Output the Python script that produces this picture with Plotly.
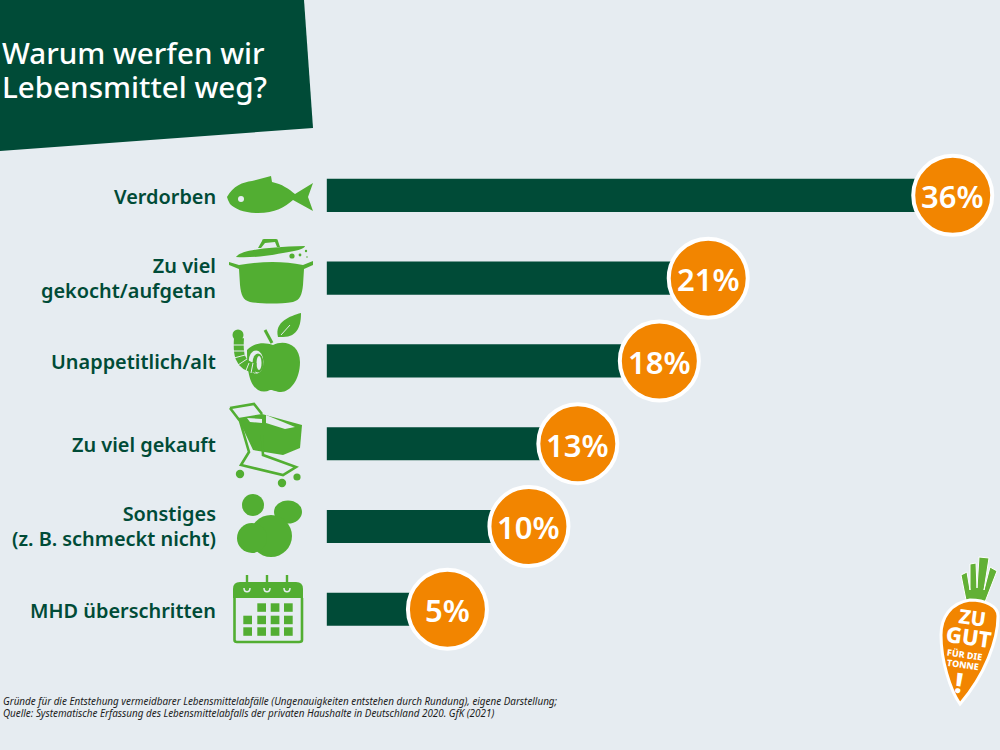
import plotly.graph_objects as go

categories = ["Verdorben", "Zu viel<br>gekocht/aufgetan", "Unappetitlich/alt",
              "Zu viel gekauft", "Sonstiges<br>(z. B. schmeckt nicht)", "MHD überschritten"]
values = [36, 21, 18, 13, 10, 5]
title_lines = ["Warum werfen wir", "Lebensmittel weg?"]
footnote_lines = [
    "Gründe für die Entstehung vermeidbarer Lebensmittelabfälle (Ungenauigkeiten entstehen durch Rundung), eigene Darstellung;",
    "Quelle: Systematische Erfassung des Lebensmittelabfalls der privaten Haushalte in Deutschland 2020. GfK (2021)",
]

BG = "#e6ecf1"
DARK = "#004b37"
GREEN = "#52ae32"
ORANGE = "#f28500"
FONT = "Noto Sans"

# bars start a bit left of the zero the circles are placed on
BAR_BASE = -2.4


def path(d, fill=GREEN, line=None, width=0):
    return dict(type="path", path=d, xref="x2", yref="y2", fillcolor=fill, layer="above",
                line=dict(color=line or fill, width=width))


def stroke(d, color=GREEN, width=2):
    return dict(type="path", path=d, xref="x2", yref="y2", layer="above",
                line=dict(color=color, width=width))


def ellipse(cx, cy, rx, ry=None, fill=GREEN):
    ry = ry or rx
    return dict(type="circle", xref="x2", yref="y2", x0=cx - rx, x1=cx + rx, y0=cy - ry, y1=cy + ry,
                fillcolor=fill, line=dict(width=0), layer="above")


def box(x0, y0, x1, y1, fill=GREEN):
    return dict(type="rect", xref="x2", yref="y2", x0=x0, x1=x1, y0=y0, y1=y1,
                fillcolor=fill, line=dict(width=0), layer="above")


def sized(text, size):
    # line spacing follows the annotation font, the span sets the glyph size
    return f'<span style="font-size:{size}px">{text}</span>'


def header_shapes():
    return [path("M0,0 L304,0 L313,128 L0,151 Z", fill=DARK)]


def fish():
    return [
        path("M227,197 C233,186 243,182 252,181 L271,176 L272,182 C282,184 289,189 295,194 L313,183 "
             "L308,197 L313,211 L293,200 C285,207 275,213 258,213 C244,213 235,209 230,204 L228,200 Z"),
        ellipse(241, 199, 3, fill=BG),
    ]


def pot():
    shapes = [
        path("M236,257 C240,251 262,247 305,246 C305,249 295,251 283,253 C268,256 250,258 236,257 Z"),
        path("M258,248 L262,241 Q262,239 264,239 L276,239 Q278,239 278,241 L280,247 L277,247 L275,242 L265,243 L261,248 Z"),
        path("M229,262 L239,265 C262,261 284,261 303,265 L313,261 L313,265 L304,269 L303,285 "
             "C302,295 300,300 293,302 C280,304 262,304 250,302 C243,300 241,295 240,285 L239,269 L229,265 Z"),
    ]
    for cx, cy, r in [(292, 256, 2.6), (300, 255, 1.4), (306, 251, 1.2), (307, 257, 0.8)]:
        shapes.append(ellipse(cx, cy, r))
    return shapes


def apple():
    shapes = [
        path("M273,345 C285,339 300,345 300,362 C300,380 290,392 281,392 C276,392 274,390 270,390 "
             "C266,392 262,392 258,390 C252,386 247,378 247,350 C255,342 265,342 273,345 Z"),
        stroke("M265,330 L272,343", width=3),
        path("M278,337 C274,322 290,316 301,313 C301,325 298,337 283,337 Z"),
        stroke("M281,335 L290,325", color=BG, width=1),
        ellipse(256, 362, 7.5, 11.5, fill=BG),
        ellipse(258, 363, 5.5, 9.5),
        ellipse(259, 363, 2.5, 7, fill=BG),
        stroke("M239,338 C238,352 238,366 256,368", width=10),
        ellipse(238, 335, 5.5),
    ]
    for d in ["M232,345 L244,345", "M232,351 L244,351", "M234,358 L245,355", "M238,365 L247,359", "M245,373 L249,363", "M251,373 L253,363"]:
        shapes.append(stroke(d, color=BG, width=1))
    return shapes


def cart():
    shapes = [
        path("M238,418 L262,414 L302,425 L300,448 L283,455 L253,450 Z"),
        path("M247,418 L262,419 L262,423 L250,422 Z", fill=BG),
        path("M266,415 L295,427 L285,429 L266,423 Z", fill=BG),
        stroke("M230,408 L254,404 L262,414 M230,408 L240,421 L249,452 L241,465 L283,475 L296,467 L263,455 L262,435", width=2.6),
        ellipse(240, 474, 4.2),
        ellipse(282, 483, 4.2),
        ellipse(297, 477, 3.6),
    ]
    return shapes


def blobs():
    return [ellipse(253, 505, 11), ellipse(288, 512, 14, 11.5), ellipse(271, 536, 21), ellipse(252, 538, 15)]


def calendar():
    shapes = [
        stroke("M234.5,598 L234.5,640 Q234.5,642 237,642 L299,642 Q302,642 302,640 L302,598", width=2.6),
        path("M233,598 L233,589 Q233,582 240,582 L296,582 Q303,582 303,589 L303,598 Z"),
    ]
    for x in [247, 267, 287]:
        shapes.append(stroke(f"M{x - 3},588 C{x - 3},593 {x + 3},593 {x + 3},588", color=BG, width=1.5))
        shapes.append(stroke(f"M{x},575 L{x},589", width=2.4))
    for row, y in enumerate([603.3, 615.7, 627.3]):
        for col, x in enumerate([243.3, 257.3, 270.7, 284]):
            if row == 0 and col == 0:
                continue
            shapes.append(box(x, y, x + 8.7, y + 8.5))
    return shapes


def carrot():
    return [
        path("M966,600 L961,575 L967,572 L970,590 L970,564 L976,563 L977,588 L979,557 L989,558 L984,590 "
             "L990,567 L997,571 L985,602 Z", fill="#62b035", line="#ffffff", width=1),
        path("M970,600 C985,600 998,606 998,616 C998,640 985,675 960,704 C950,690 941,660 941,635 "
             "C941,618 950,603 970,600 Z", fill=ORANGE, line="#ffffff", width=3),
    ]


def carrot_labels():
    items = [("ZU", 972, 617, 20), ("GUT", 969, 636, 22), ("FÜR DIE", 964, 654, 9),
             ("TONNE", 963, 664, 9), ("!", 959, 682, 28)]
    return [dict(text=t, x=x, y=y, xref="x2", yref="y2", showarrow=False, textangle=8,
                 font=dict(family=FONT, size=s, color="white", weight=800)) for t, x, y, s in items]


fig = go.Figure()
fig.add_trace(go.Bar(
    y=categories, x=[v - BAR_BASE for v in values], base=BAR_BASE, orientation="h", width=0.4,
    marker=dict(color=DARK, line=dict(width=0)), hoverinfo="skip",
))
fig.add_trace(go.Scatter(
    y=categories, x=values, mode="markers",
    marker=dict(size=79, color=ORANGE, line=dict(color="white", width=4)),
    cliponaxis=False, hoverinfo="skip",
))

shapes = header_shapes() + fish() + pot() + apple() + cart() + blobs() + calendar() + carrot()

annotations = [
    dict(text=sized("<br>".join(title_lines), 29.6), x=0, y=69, xref="x2", yref="y2", xanchor="left",
         align="left", showarrow=False, font=dict(family=FONT, size=26.2, color="white", weight=500)),
    dict(text="<i>" + sized("<br>".join(footnote_lines), 9.9) + "</i>", x=1, y=707, xref="x2", yref="y2",
         xanchor="left", align="left", showarrow=False, font=dict(family=FONT, size=9.2, color="#1c1c1c")),
]
for cat, v in zip(categories, values):
    annotations.append(dict(text=sized(cat, 19.9), x=218, y=cat, xref="x2", yref="y", xanchor="right",
                            align="right", yshift=0 if "<br>" in cat else -1, showarrow=False,
                            font=dict(family=FONT, size=19.2, color=DARK, weight=600)))
    annotations.append(dict(text=f"{v}%", x=v, y=cat, xref="x", yref="y", yshift=-1, showarrow=False,
                            font=dict(family=FONT, size=31, color="white", weight=600)))
annotations += carrot_labels()

fig.update_layout(
    width=1000, height=750,
    margin=dict(l=0, r=0, t=0, b=0),
    paper_bgcolor=BG, plot_bgcolor=BG,
    showlegend=False,
    xaxis=dict(range=[-22.45, 38.9], visible=False, fixedrange=True),
    yaxis=dict(
        type="category", categoryorder="array", categoryarray=categories,
        range=[6.70, -2.36], showgrid=False, zeroline=False, showline=False,
        ticks="", showticklabels=False,
    ),
    xaxis2=dict(range=[0, 1000], overlaying="x", anchor="y2", visible=False),
    yaxis2=dict(range=[750, 0], overlaying="y", anchor="x2", visible=False),
    shapes=shapes,
    annotations=annotations,
)

fig.write_html("out.html", config={"displayModeBar": False},
               post_script="document.body.style.margin='0';")
